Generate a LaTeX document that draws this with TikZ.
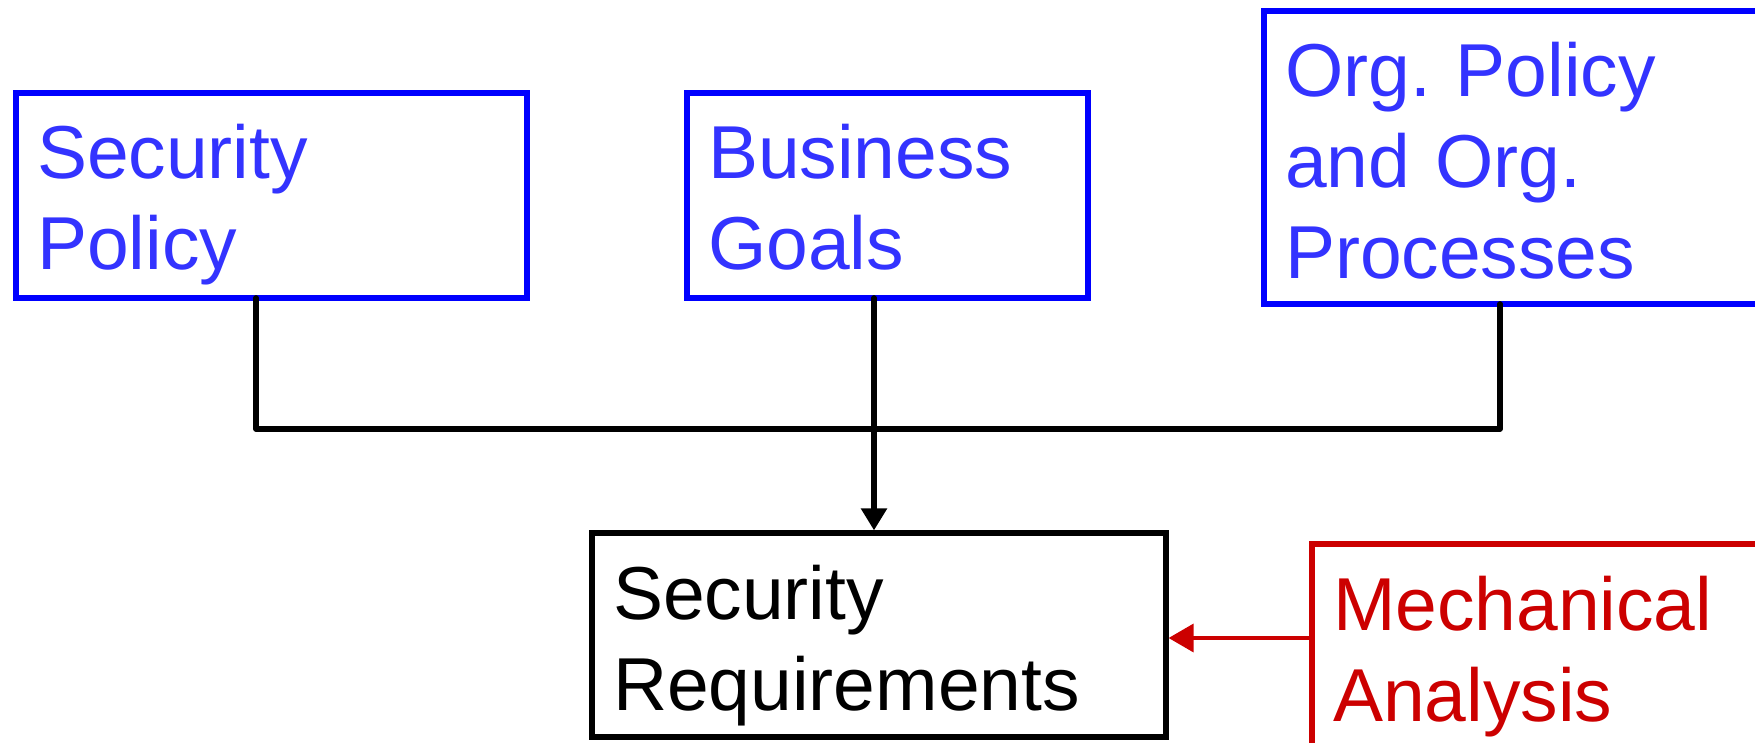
\documentclass[tikz,border=0pt]{standalone}
\usepackage{fontspec}
\setmainfont{Liberation Sans}
\usepackage{xcolor}
\usepackage{tikz}
\usetikzlibrary{arrows.meta}
\definecolor{boxblue}{HTML}{0000FF}
\definecolor{textblue}{HTML}{3333FF}
\definecolor{mechred}{HTML}{CC0000}
\frenchspacing

\begin{document}
\begin{tikzpicture}[x=0.5pt, y=-0.5pt,
    block/.style={draw, anchor=north west, align=left, outer sep=0pt,
                  inner xsep=10.5pt, inner ysep=0pt, text height=43pt,
                  font=\fontsize{37.5}{45.5}\selectfont},
    source/.style={block, draw=boxblue, text=textblue, line width=3pt},
    link/.style={line width=2.9pt, line cap=round, line join=round}]
  \clip (0,0) rectangle (1755,743);

  % inputs
  \node[source, text width=234.5pt, text depth=59.5pt] (secpol) at (16,93) {Security\\Policy};
  \node[source, text width=179.5pt, text depth=59.5pt] (goals) at (687,93) {Business\\Goals};
  \node[source, text width=259pt, text depth=103.5pt] (orgpol) at (1264,11) {Org. Policy\\and Org.\\Processes};

  % result
  \node[block, line width=2.75pt, text width=266pt, text depth=59pt] (secreq) at (592,533) {Security\\Requirements};
  \node[block, draw=mechred, text=mechred, line width=2.75pt, text width=259pt, text depth=67pt] (mech) at (1312,544) {Mechanical\\Analysis};

  \draw[link] (256,0 |- secpol.south) -- (256,429) -| (1500,0 |- orgpol.south);
  \draw[link, -{Triangle[length=11pt, width=12.5pt]}, shorten >=1.3pt] (874,0 |- goals.south) -- (874,0 |- secreq.north);
  \draw[mechred, line width=1.8pt, -{Triangle[length=12.5pt, width=14pt]}, shorten >=1.3pt] (mech.west |- 0,638) -- (secreq.east |- 0,638);
\end{tikzpicture}
\end{document}
